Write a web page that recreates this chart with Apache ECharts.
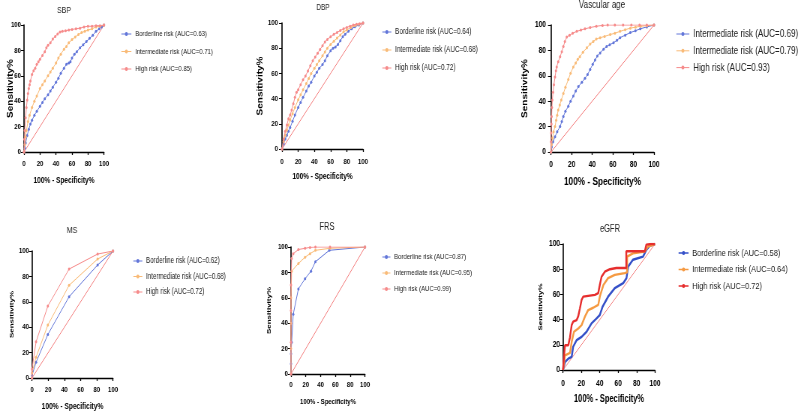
<!DOCTYPE html>
<html><head><meta charset="utf-8">
<script src="https://cdn.jsdelivr.net/npm/echarts@6/dist/echarts.min.js"></script>
<style>
html,body{margin:0;padding:0;background:#fff;overflow:hidden;width:800px;height:412px}
#wrap{width:800px;height:412px;overflow:hidden;position:relative}
#c{height:412px;transform-origin:0 0;position:absolute;left:0;top:0}
</style>
</head><body><div id="wrap"><div id="c"></div></div>
<script>
// ---------- DATA ----------
const panelTitles = ['SBP', 'DBP', 'Vascular age', 'MS', 'FRS', 'eGFR'];
const xAxisTitle = '100% - Specificity%';
const yAxisTitle = 'Sensitivity%';
const axisMin = 0, axisMax = 100, axisStep = 20;
const diagonal = [[0, 0], [100, 100]];

const sbpNames = ['Borderline risk (AUC=0.63)', 'Intermediate risk (AUC=0.71)', 'High risk (AUC=0.85)'];
const sbpBorderline = [[0,0],[1,3],[2,7],[4,13],[6,18],[8,22],[10,25],[13,29],[16,32],[20,36],[23,39],[26,42],[30,45],[33,48],[36,51],[40,55],[43,58],[46,62],[50,66],[53,69],[56,70],[58,71],[60,74],[63,77],[66,79],[70,82],[74,84.5],[78,87],[82,89.5],[86,92],[90,95],[94,97],[97,98.5],[100,100]];
const sbpIntermediate = [[0,0],[1,6],[2,12],[3,17],[5,24],[7,29],[10,35],[13,40],[16,44],[20,50],[23,53],[26,56],[30,60],[33,63],[36,66],[40,70],[43,74],[46,77],[50,81],[53,83],[56,86],[60,88.5],[64,90.5],[68,92.5],[72,94],[76,95],[80,96],[85,97],[90,98.5],[95,99],[100,100]];
const sbpHigh = [[0,0],[0.5,10],[1,17],[2,27],[3,35],[4,41],[5,46],[6,50],[7,53],[8,56],[10,61],[12,64],[14,66],[16,69],[18,71],[20,73],[23,76],[26,79],[28,82],[30,84],[33,86],[36,89],[39,91],[42,93],[45,94.5],[48,95],[52,95.5],[56,96],[60,96.5],[65,97],[70,97.5],[75,98.5],[80,99],[85,99],[90,99.5],[95,99.5],[100,100]];

const dbpNames = ['Borderline risk (AUC=0.64)', 'Intermediate risk (AUC=0.68)', 'High risk (AUC=0.72)'];
const dbpBorderline = [[0,0],[2,4],[4,8],[6,11],[8,14],[10,17],[13,22],[16,27],[20,33],[23,37],[26,41],[30,46],[33,50],[36,53],[40,58],[43,61],[46,64],[50,67],[53,70],[56,74],[60,78],[63,80],[66,81],[69,83],[72,86],[75,89],[78,91],[82,93.5],[86,95.5],[90,97],[95,98.5],[100,100]];
const dbpIntermediate = [[0,0],[2,6],[4,11],[6,15],[8,19],[10,23],[13,28],[16,33],[20,39],[23,43],[26,47],[30,52],[33,56],[36,60],[40,64],[43,67],[46,70],[50,74],[53,77],[56,80],[60,83],[64,85.5],[68,88],[72,90.5],[76,93],[80,94.5],[85,96.5],[90,98],[95,99],[100,100]];
const dbpHigh = [[0,0],[2,8],[4,14],[6,19],[8,24],[10,27],[12,31],[14,36],[16,41],[18,45],[20,47],[23,51],[26,55],[29,58],[32,62],[35,66],[38,70],[41,73],[44,76],[47,79],[50,82],[53,85],[56,87],[60,89],[64,91],[68,92.5],[72,94],[76,95.5],[80,96.5],[84,97.5],[88,98.5],[92,99],[96,99.5],[100,100]];

const vaNames = ['Intermediate risk (AUC=0.69)', 'Intermediate risk (AUC=0.79)', 'High risk (AUC=0.93)'];
const vaFirst = [[0,0],[0.6,4],[2,8],[3.9,12],[6,16],[8.8,20],[10.5,24],[12,28],[14,32],[16.8,36],[19,40],[21.7,44],[24,48],[26.6,51.5],[30,55],[33,58],[35.5,61],[38,65],[40.5,69],[42.8,72.5],[45,75.5],[47.7,78],[51,81],[54,83],[57,84.5],[60.7,86],[64,88],[67,90],[72,92],[77,94],[82,95.5],[86.7,97],[93,98.5],[100,100]];
const vaSecond = [[0,0],[0.6,6],[1.5,11],[2.5,16],[3.9,20],[5,25],[6,29],[7,33],[8.5,37],[10,41],[12,46],[14,51],[16.8,57],[19,62],[21.7,67],[24,70],[26,73],[28,75],[31,78.5],[34.8,82],[38,85],[41,87],[44,89],[47.7,90],[52,91],[57.5,92.5],[62,93.5],[67,95],[72,96.3],[77,97.5],[82,98.3],[87,99],[93,99.5],[100,100]];
const vaHigh = [[0,0],[0,8],[0.2,15],[0.4,22],[0.6,28],[0.9,35],[1.3,41],[2,47],[2.8,53],[3.9,59],[4.8,64],[5.5,67],[7,71],[8.8,75],[10.5,79],[12,83],[13.5,87],[15.3,90.5],[18,92],[21,93.5],[25,95],[29,96],[33,97],[38,98],[44,99],[50,99.7],[55,100],[62,100],[70,100],[78,100],[86,100],[93,100],[100,100]];

const msNames = ['Borderline risk (AUC=0.62)', 'Intermediate risk (AUC=0.68)', 'High risk (AUC=0.72)'];
const msBorderline = [[0,0],[0,2],[5,12.4],[19.6,34.3],[45.8,64],[81,89],[100,100]];
const msIntermediate = [[0,0],[0,4],[5,16.4],[19.6,41.7],[45.8,73],[81,93.7],[100,100]];
const msHigh = [[0,0],[0,7],[5,28.5],[19.6,56.7],[45.8,85.8],[81,97.6],[100,100]];

const frsNames = ['Borderline risk (AUC=0.87)', 'Intermediate risk (AUC=0.95)', 'High risk (AUC=0.99)'];
const frsBorderline = [[0,0],[0,8],[0,16],[0.9,25],[3,47],[10,67],[19,75],[27,81],[33,88.4],[51.8,97.4],[100,100]];
const frsIntermediate = [[0,0],[0,20],[0,40],[0,60],[0.9,81],[10,87],[19,92],[25.7,94.7],[33,97.4],[52.7,99],[100,100]];
const frsHigh = [[0,0],[0,25],[0,50],[0,70],[0.9,91],[3,94.7],[10,98],[19,99],[25.7,99.7],[33,100],[52.7,100],[100,100]];

const egfrNames = ['Borderline risk (AUC=0.58)', 'Intermediate risk (AUC=0.64)', 'High risk (AUC=0.72)'];
const egfrBorderline = [[0,0],[2.2,6.4],[5.8,9],[9.4,10.4],[11,18.3],[14.8,23.7],[20.2,26.3],[25.6,30.3],[31,37],[36.5,41],[40,43.6],[43,50.2],[49,58.2],[56.3,65],[65.4,68.9],[69,72.9],[70.8,82],[76,87.5],[87,90],[90.6,95.3],[94.2,98.6],[100,100]];
const egfrIntermediate = [[0,0],[2.2,11.7],[7.6,13.6],[9.4,22.3],[11.9,30.3],[16.6,33],[20.2,35.6],[23.8,42.3],[27.4,47.6],[32.8,49.4],[38.3,51.6],[40,58.2],[43.9,67.5],[49,72.9],[56.3,75.5],[67,76.9],[69.7,77.5],[69.7,90],[76,92.6],[88.8,94],[92.4,98],[100,100]];
const egfrHigh = [[0,0],[1,10],[2.2,19.7],[5.8,19.7],[7.6,26],[9.4,35.6],[11,38.3],[14.8,39.6],[16.6,42.8],[18.4,49],[20.2,55.6],[22,58.2],[27.4,58.8],[34.7,59.6],[38.3,61],[40,67.5],[41.9,74],[45.5,78],[51,80],[58,81],[68.8,81],[68.8,94.3],[89,94.3],[90.6,99.5],[96,100],[100,100]];

// ---------- LAYOUT / STYLE ----------
// The reference figure is horizontally compressed; the chart is drawn wider and squeezed with scaleX.
const SX = 0.75;
const X = v => v / SX;
const SANS = "'Liberation Sans',Arial,Helvetica,sans-serif";
const lightColors = ['#6276d9', '#f9bb78', '#f68b8b'];
const darkColors = ['#3550c8', '#f59a42', '#e62e2e'];
const diagColor = '#f47c7c';

const panelData = [
  [sbpNames, [sbpBorderline, sbpIntermediate, sbpHigh]],
  [dbpNames, [dbpBorderline, dbpIntermediate, dbpHigh]],
  [vaNames, [vaFirst, vaSecond, vaHigh]],
  [msNames, [msBorderline, msIntermediate, msHigh]],
  [frsNames, [frsBorderline, frsIntermediate, frsHigh]],
  [egfrNames, [egfrBorderline, egfrIntermediate, egfrHigh]]
];

// displayed-pixel layout: grid [left, top, width, height], title [centerX, top, size],
// legend [left, top, iconW, fontSize, lineHeight, gap], yName [size, displayedGap]
const layout = [
  {grid:[24,25,80,127], title:[64,6,9.3], leg:[121,29,10,8,10,7.5], tick:8, xm:8, ym:3, xn:[8.7,24], yn:[10,9.5], colors:lightColors, lw:1, sym:3},
  {grid:[282,23,81,126], title:[323,3,8.5], leg:[382,27,9,8.5,10,8], tick:8, xm:9, ym:4, xn:[8.6,23], yn:[10,17.5], colors:lightColors, lw:1, sym:3},
  {grid:[551,25,103,127], title:[602,0,10.7], leg:[676,28,13,10.8,12,4.8], tick:8.8, xm:8, ym:5, xn:[11,24], yn:[10,22.25], colors:lightColors, lw:1, sym:3},
  {grid:[32,251,81,127], title:[72,225,9.5], leg:[133,256,9,8.2,10,5.5], tick:8, xm:8, ym:3, xn:[8.8,24], yn:[8,17.5], colors:lightColors, lw:1, sym:3},
  {grid:[291,247,74,127], title:[327,222,10], leg:[382,252,8,8,10,6], tick:8, xm:7, ym:3, xn:[8,24], yn:[8,19], colors:lightColors, lw:1, sym:3},
  {grid:[563,244,92,126], title:[610,224,10], leg:[678,247.5,10,9.8,11,5.5], tick:8.8, xm:9, ym:3, xn:[10,24.5], yn:[8,19.5], colors:darkColors, lw:2.4, sym:0}
];

const grids = [], xAxes = [], yAxes = [], titles = [], legends = [], series = [];
layout.forEach((L, i) => {
  const [names, dataSets] = panelData[i];
  grids.push({left: X(L.grid[0]), top: L.grid[1], width: X(L.grid[2]), height: L.grid[3],
    outerBoundsMode: 'none', containLabel: false});
  titles.push({text: panelTitles[i], left: X(L.title[0]), top: L.title[1], textAlign: 'center', padding: 0,
    textStyle: {fontFamily: SANS, fontSize: L.title[2], fontWeight: 'normal', color: '#222'}});
  const axisCommon = {
    gridIndex: i, type: 'value', min: axisMin, max: axisMax, interval: axisStep,
    splitLine: {show: false}, nameMoveOverlap: false
  };
  xAxes.push(Object.assign({}, axisCommon, {
    axisLine: {show: true, onZero: false, lineStyle: {color: '#000', width: 1.3}},
    axisTick: {show: true, length: 3, lineStyle: {color: '#000', width: 1.3}},
    axisLabel: {color: '#000', fontWeight: 'bold', fontFamily: SANS, fontSize: L.tick, margin: L.xm},
    name: xAxisTitle, nameLocation: 'middle', nameGap: L.xn[1],
    nameTextStyle: {color: '#000', fontWeight: 'bold', fontFamily: SANS, fontSize: L.xn[0], verticalAlign: 'top'}
  }));
  yAxes.push(Object.assign({}, axisCommon, {
    axisLine: {show: true, onZero: false, lineStyle: {color: '#000', width: 1.6}},
    axisTick: {show: true, length: X(3), lineStyle: {color: '#000', width: 1}},
    axisLabel: {color: '#000', fontWeight: 'bold', fontFamily: SANS, fontSize: L.tick, margin: X(L.ym)},
    name: yAxisTitle, nameLocation: 'middle', nameGap: X(L.yn[1]),
    nameTextStyle: {color: '#000', fontWeight: 'bold', fontFamily: SANS, fontSize: L.yn[0]}
  }));
  series.push({type: 'line', xAxisIndex: i, yAxisIndex: i, data: diagonal, symbol: 'none',
    lineStyle: {color: diagColor, width: 1}, silent: true, z: 2});
  const legData = [];
  dataSets.forEach((d, j) => {
    const c = L.colors[j];
    series.push({type: 'line', name: names[j], xAxisIndex: i, yAxisIndex: i, data: d,
      symbol: 'circle', symbolSize: L.sym || 1, showSymbol: L.sym > 0,
      lineStyle: {color: c, width: L.lw}, itemStyle: {color: c}, z: 3 + j});
    legData.push({name: names[j], itemStyle: {color: c}, lineStyle: {color: c, width: Math.min(L.lw, 1.5)}});
  });
  legends.push({orient: 'vertical', left: X(L.leg[0]), top: L.leg[1], padding: 0,
    itemWidth: X(L.leg[2]), itemHeight: 5, itemGap: L.leg[5], selectedMode: false,
    textStyle: {fontFamily: SANS, fontSize: L.leg[3], lineHeight: L.leg[4], color: '#222'},
    data: legData});
});

const el = document.getElementById('c');
el.style.width = X(800) + 'px';
el.style.transform = 'scaleX(' + SX + ')';
const chart = echarts.init(el, null, {renderer: 'canvas'});
chart.setOption({
  animation: false, backgroundColor: '#fff',
  title: titles, grid: grids, xAxis: xAxes, yAxis: yAxes, legend: legends, series: series
});
</script></body></html>
